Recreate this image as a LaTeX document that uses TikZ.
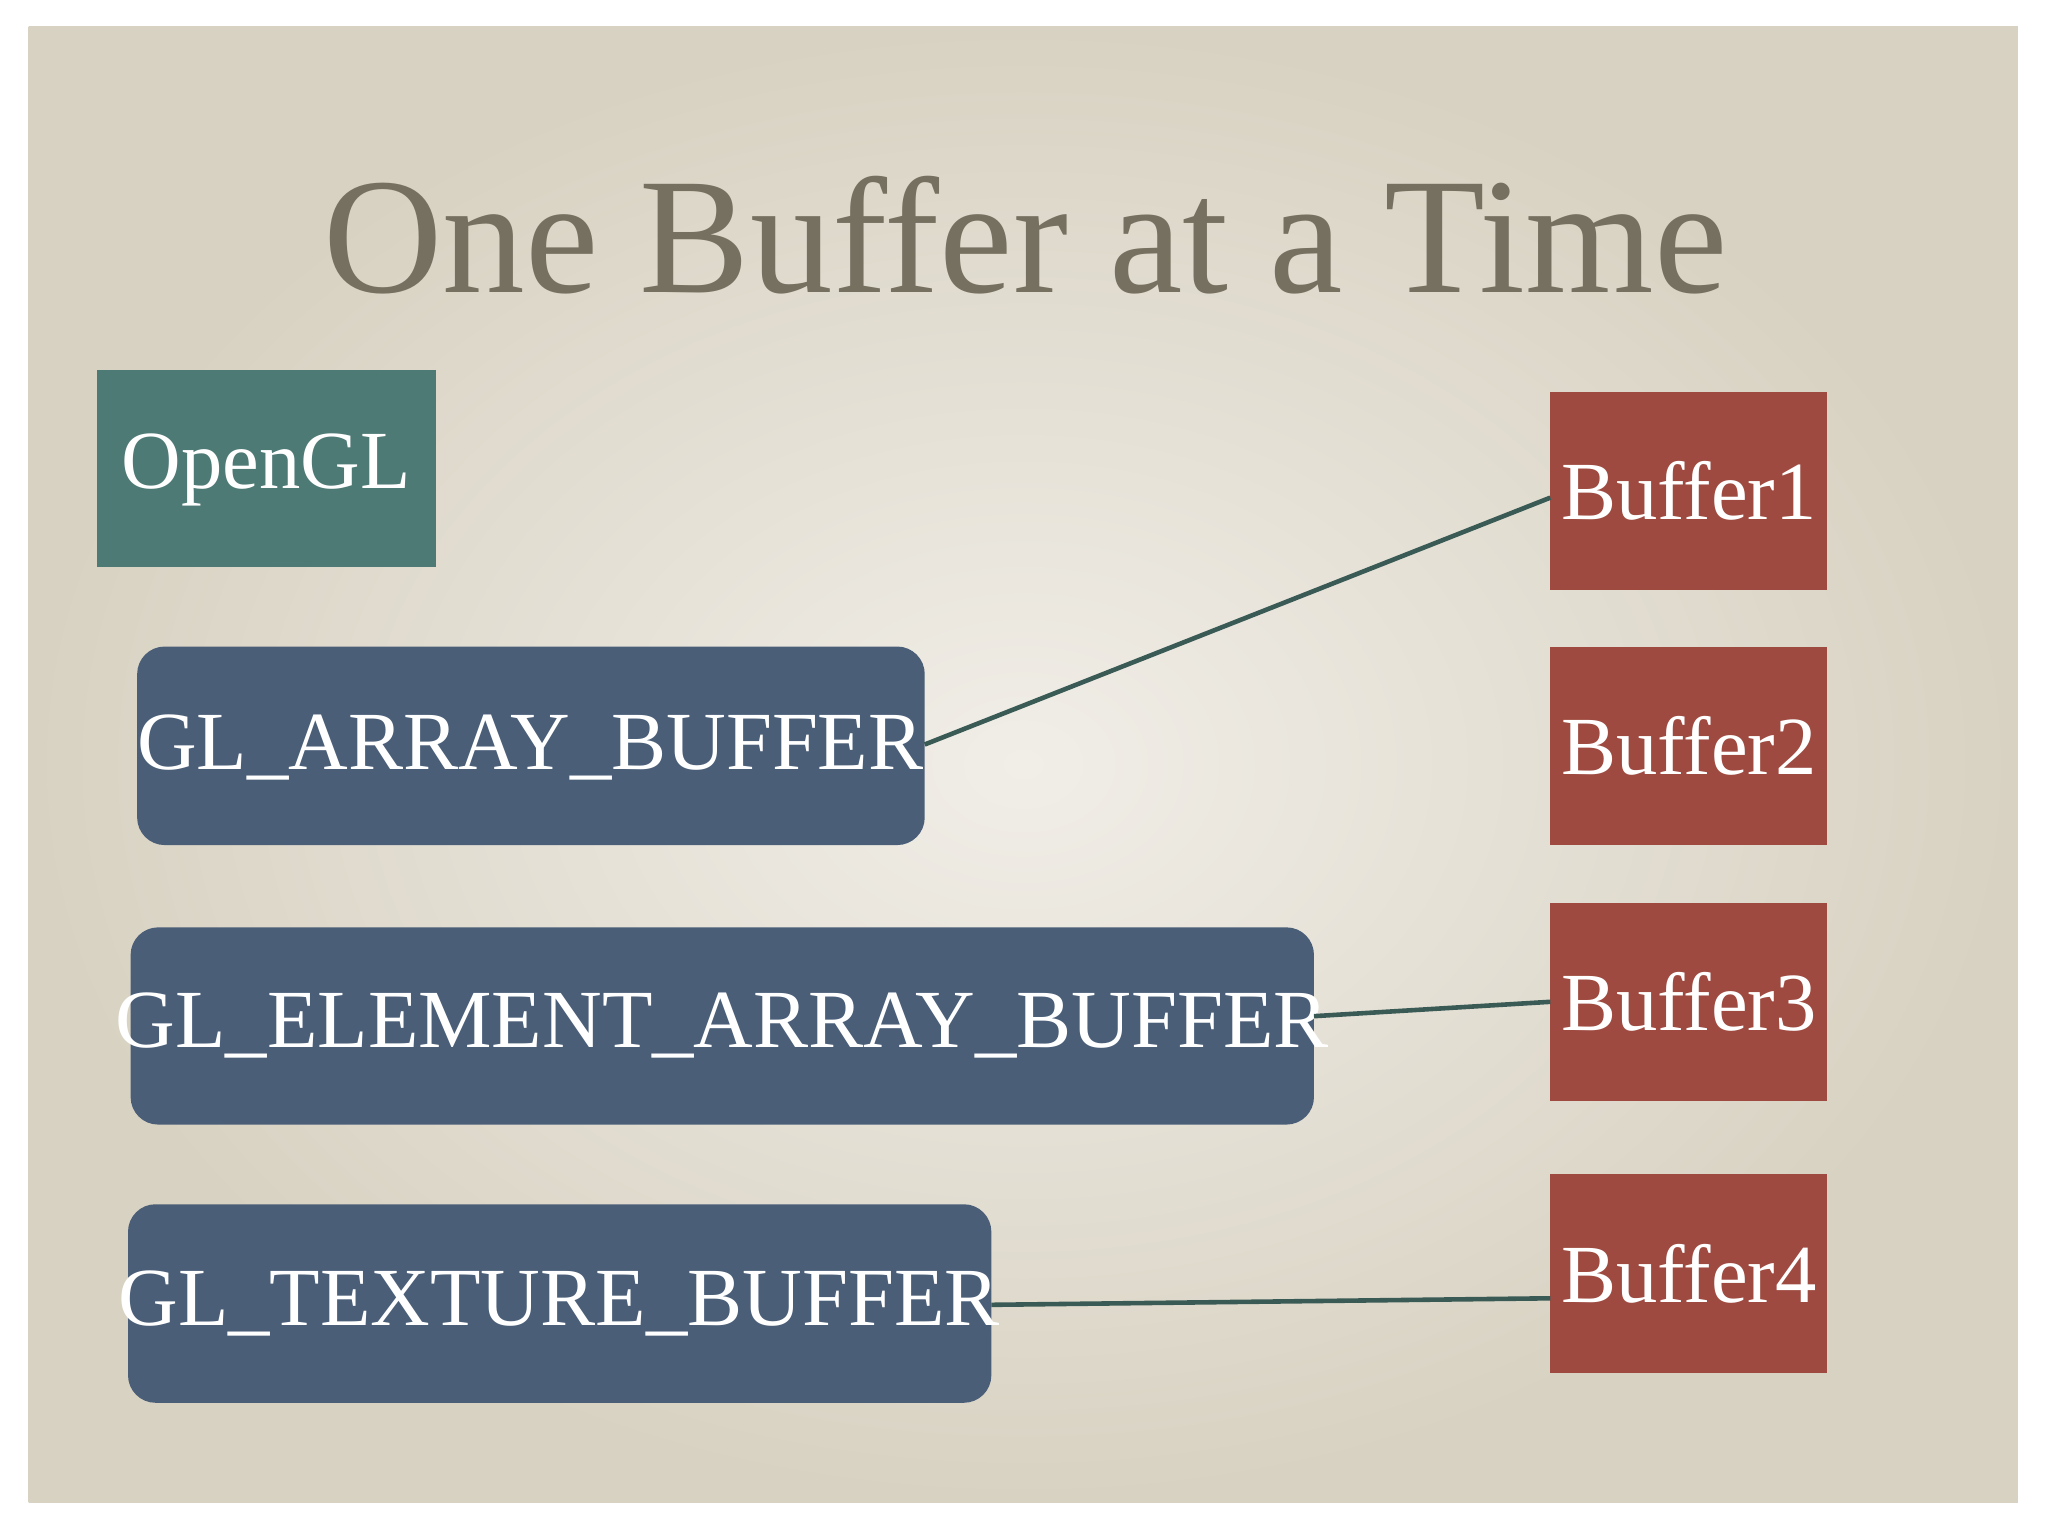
\documentclass[tikz,border=0pt]{standalone}
\usepackage{fontspec}
\setmainfont{Liberation Serif}
\definecolor{card}{HTML}{D8D2C2}
\definecolor{cardin}{HTML}{F1EEE8}
\definecolor{titlec}{HTML}{767060}
\definecolor{teal}{HTML}{4E7A76}
\definecolor{bluebox}{HTML}{4A5E78}
\definecolor{redbox}{HTML}{9E4A40}
\definecolor{linec}{HTML}{3A5A55}
\tikzset{
  lbl/.style={text=white,font=\fontsize{36}{40}\selectfont,inner sep=0pt},
  glbox/.style={fill=bluebox,rounded corners=12pt},
  bufbox/.style={fill=redbox},
  conn/.style={draw=linec,line width=2pt}
}
\begin{document}
\begin{tikzpicture}[x=0.02cm,y=-0.02cm]
\fill[white] (0,0) rectangle (1568,1176);
\useasboundingbox (0,0) rectangle (1568,1176);
\shade[inner color=cardin,outer color=card] (22,20) rectangle (1545,1150);
\node[text=titlec,font=\fontsize{72}{80}\selectfont] (title) at (785,180) {One Buffer at a Time};
\fill[teal] (74,283) rectangle (334,434);
\node[lbl] (opengl) at (204,360) {OpenGL};
\fill[glbox] (105,495) rectangle (708,647);
\node[lbl] (arr) at (406,572) {GL\_ARRAY\_BUFFER};
\fill[glbox] (100,710) rectangle (1006,861);
\node[lbl] (ele) at (553,785) {GL\_ELEMENT\_ARRAY\_BUFFER};
\fill[glbox] (98,922) rectangle (759,1074);
\node[lbl] (tex) at (428,998) {GL\_TEXTURE\_BUFFER};
\foreach \i/\y in {1/300,2/495,3/691,4/899}{
  \fill[bufbox] (1187,\y) rectangle (1399,\y+152);
  \node[lbl] (b\i) at (1293,\y+76) {Buffer\i};
}
\coordinate (ae) at (708,570); \coordinate (b1w) at (1187,381);
\coordinate (ee) at (1006,778); \coordinate (b3w) at (1187,767);
\coordinate (te) at (759,999); \coordinate (b4w) at (1187,994);
\draw[conn] (ae) -- (b1w);
\draw[conn] (ee) -- (b3w);
\draw[conn] (te) -- (b4w);
\end{tikzpicture}
\end{document}
